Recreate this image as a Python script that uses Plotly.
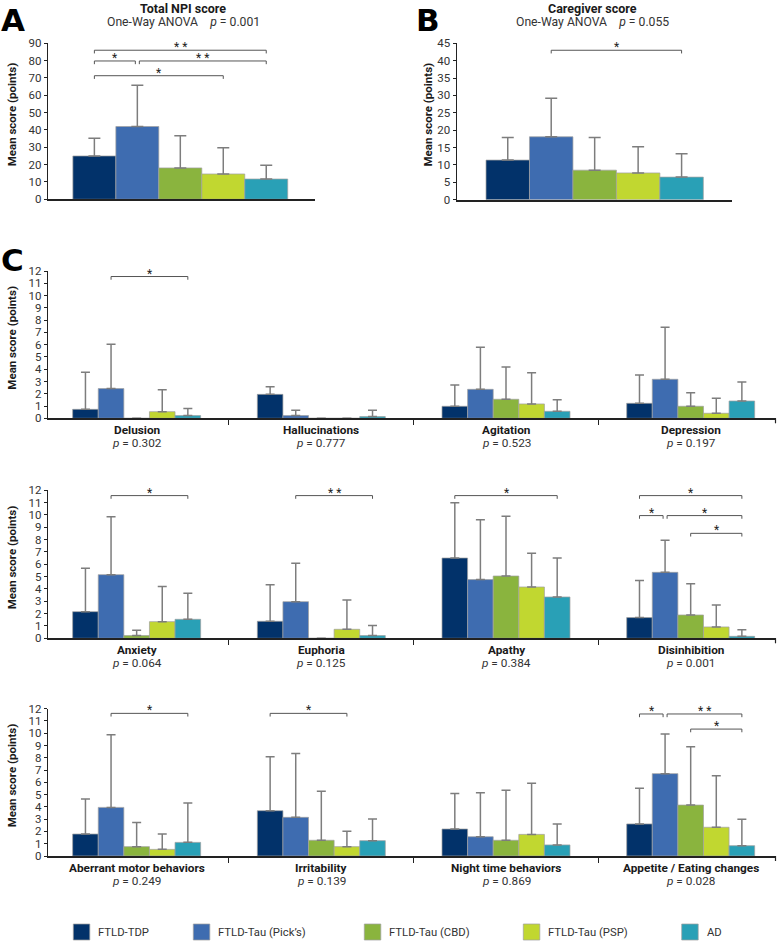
import plotly.graph_objects as go

W, H = 778, 942

# ---------------- data ----------------
groups = ["FTLD-TDP", "FTLD-Tau (Pick’s)", "FTLD-Tau (CBD)", "FTLD-Tau (PSP)", "AD"]
colors = ["#02326a", "#3e6cb0", "#8ab43e", "#c1d730", "#29a0b6"]

total_mean = [25.0, 42.0, 18.1, 14.6, 11.7]
total_sd = [10.2, 23.8, 18.6, 15.2, 7.9]
total_p = "0.001"

care_mean = [11.4, 18.1, 8.5, 7.7, 6.5]
care_sd = [6.5, 11.1, 9.4, 7.5, 6.7]
care_p = "0.055"

domains = ["Delusion", "Hallucinations", "Agitation", "Depression",
           "Anxiety", "Euphoria", "Apathy", "Disinhibition",
           "Aberrant motor behaviors", "Irritability", "Night time behaviors",
           "Appetite / Eating changes"]
domain_p = ["0.302", "0.777", "0.523", "0.197", "0.064", "0.125", "0.384", "0.001",
            "0.249", "0.139", "0.869", "0.028"]
# mean per group (rows: domains, cols: groups)
domain_mean = [
    [0.73, 2.42, 0.0, 0.54, 0.22],
    [1.95, 0.22, 0.0, 0.0, 0.14],
    [0.98, 2.36, 1.55, 1.17, 0.57],
    [1.22, 3.18, 0.98, 0.41, 1.41],
    [2.16, 5.16, 0.22, 1.35, 1.54],
    [1.38, 2.97, 0.0, 0.73, 0.22],
    [6.51, 4.76, 5.05, 4.16, 3.35],
    [1.68, 5.35, 1.89, 0.92, 0.16],
    [1.79, 3.96, 0.76, 0.54, 1.11],
    [3.69, 3.15, 1.28, 0.76, 1.25],
    [2.20, 1.57, 1.28, 1.76, 0.90],
    [2.61, 6.71, 4.15, 2.34, 0.84],
]
domain_sd = [
    [3.02, 3.61, None, 1.79, 0.57],
    [0.63, 0.43, None, None, 0.51],
    [1.74, 3.42, 2.63, 2.55, 0.95],
    [2.31, 4.23, 1.11, 1.22, 1.55],
    [3.52, 4.70, 0.43, 2.84, 2.11],
    [2.97, 3.11, None, 2.38, 0.81],
    [4.49, 4.86, 4.84, 2.73, 3.16],
    [3.00, 2.60, 2.54, 1.78, 0.54],
    [2.85, 5.92, 1.96, 1.25, 3.21],
    [4.40, 5.21, 3.99, 1.25, 1.76],
    [2.90, 3.59, 4.07, 4.16, 1.71],
    [2.90, 3.23, 4.76, 4.20, 2.15],
]
# significance brackets: (group from, group to, level, stars)
total_sig = [(0, 4, 86.0, "* *"), (0, 1, 79.8, "*"), (1, 4, 79.8, "* *"), (0, 3, 71.3, "*")]
care_sig = [(1, 4, 43.0, "*")]
domain_sig = [
    ("Delusion", 1, 4, 11.55, "*"),
    ("Anxiety", 1, 4, 11.57, "*"),
    ("Euphoria", 1, 4, 11.57, "* *"),
    ("Apathy", 0, 4, 11.57, "*"),
    ("Disinhibition", 0, 4, 11.57, "*"),
    ("Disinhibition", 0, 1, 9.95, "*"),
    ("Disinhibition", 1, 4, 9.95, "*"),
    ("Disinhibition", 2, 4, 8.51, "*"),
    ("Aberrant motor behaviors", 1, 4, 11.62, "*"),
    ("Irritability", 0, 3, 11.62, "*"),
    ("Appetite / Eating changes", 0, 1, 11.57, "*"),
    ("Appetite / Eating changes", 1, 4, 11.57, "* *"),
    ("Appetite / Eating changes", 2, 4, 10.34, "*"),
]

# ---------------- layout helpers ----------------
FONT = "Roboto, 'Noto Sans', sans-serif"
BARGAP = 0.307
BW = (1 - BARGAP) / 5  # bar width in category units


def px_x(p):
    return p / W


def px_y(p):
    return 1 - p / H


# panel geometry in pixels
panels = {
    "A": dict(xa="x", ya="y", x=(48, 315), y=(43.3, 199.3), yr=(0, 90), dt=10, xr=(-0.4268, 0.4345)),
    "B": dict(xa="x2", ya="y2", x=(456.7, 731.7), y=(43.3, 199.7), yr=(0, 45), dt=5, xr=(-0.440, 0.437)),
    "R1": dict(xa="x3", ya="y3", x=(48, 776), y=(271.0, 418.3), yr=(0, 12), dt=1, xr=(-0.480, 3.462)),
    "R2": dict(xa="x4", ya="y4", x=(48, 776), y=(490.3, 638.3), yr=(0, 12), dt=1, xr=(-0.480, 3.462)),
    "R3": dict(xa="x5", ya="y5", x=(48, 776), y=(708.7, 856.0), yr=(0, 12), dt=1, xr=(-0.480, 3.462)),
}

fig = go.Figure()


def add_bars(pan, cats, means, sds, capw):
    p = panels[pan]
    for j, g in enumerate(groups):
        ys = [m[j] for m in means]
        es = [s[j] for s in sds]
        fig.add_trace(go.Bar(
            x=cats, y=ys, name=g, showlegend=False,
            xaxis=p["xa"], yaxis=p["ya"],
            marker=dict(color=colors[j], line=dict(color="rgba(160,160,160,0.9)", width=0.8)),
            error_y=dict(type="data", symmetric=False, array=es,
                         arrayminus=[0 if e is not None else None for e in es],
                         color="#7d7d7d", thickness=1.5, width=capw),
            hoverinfo="skip",
        ))


add_bars("A", ["Total NPI score"], [total_mean], [total_sd], 6)
add_bars("B", ["Caregiver score"], [care_mean], [care_sd], 6)
for r in range(3):
    sl = slice(4 * r, 4 * r + 4)
    add_bars(f"R{r+1}", domains[sl], domain_mean[sl], domain_sd[sl], 4.5)

layout = dict(
    template="none",
    width=W, height=H, margin=dict(l=0, r=0, t=0, b=0, autoexpand=False),
    paper_bgcolor="white", plot_bgcolor="white",
    barmode="group", bargap=BARGAP, bargroupgap=0,
    font=dict(family=FONT, size=11, color="#333"),
    showlegend=False,
)
shapes = []
annotations = []

for key, p in panels.items():
    xn = p["xa"].replace("x", "xaxis")
    yn = p["ya"].replace("y", "yaxis")
    is_row = key.startswith("R")
    layout[xn] = dict(
        domain=[px_x(p["x"][0]), px_x(p["x"][1])], anchor=p["ya"], type="category",
        range=list(p["xr"]), showline=True, linecolor="#222", linewidth=1.5,
        showgrid=False, zeroline=False, showticklabels=False, automargin=False,
        ticks="outside" if is_row else "", tickson="boundaries", ticklen=5,
        tickcolor="#222", tickwidth=1.2, fixedrange=True,
    )
    layout[yn] = dict(
        domain=[px_y(p["y"][1]), px_y(p["y"][0])], anchor=p["xa"], automargin=False,
        range=list(p["yr"]), dtick=p["dt"], tick0=0, showline=True, linecolor="#222",
        linewidth=1.3, showgrid=False, zeroline=False, ticks="outside", ticklen=3,
        tickcolor="#222", tickfont=dict(size=11.5, color="#333"), fixedrange=True,
    )
    # y axis title
    ymid = (p["y"][0] + p["y"][1]) / 2 - 7
    xt = 12 if p["x"][0] < 100 else 427
    annotations.append(dict(
        text="<b>Mean score (points)</b>", textangle=-90, xref="paper", yref="paper",
        x=px_x(xt), y=px_y(ymid), showarrow=False, xanchor="center", yanchor="middle",
        font=dict(size=11.5, color="#1a1a1a"),
    ))
    if is_row:
        shapes.append(dict(type="line", xref="paper", yref="paper",
                           x0=px_x(p["x"][1] - 0.5), x1=px_x(p["x"][1] - 0.5),
                           y0=px_y(p["y"][1]), y1=px_y(p["y"][1] + 5),
                           line=dict(color="#222", width=1.2)))


def bar_center(cat_idx, grp):
    return cat_idx + (grp - 2) * BW


def add_bracket(pan, cat_idx, g0, g1, level, stars, shrink_l=0.0, shrink_r=0.0):
    p = panels[pan]
    unit_px = (p["x"][1] - p["x"][0]) / (p["xr"][1] - p["xr"][0])
    yscale = (p["y"][1] - p["y"][0]) / (p["yr"][1] - p["yr"][0])
    tick = 3.2 / yscale
    x0 = bar_center(cat_idx, g0) + shrink_l * 2.0 / unit_px
    x1 = bar_center(cat_idx, g1) - shrink_r * 2.0 / unit_px
    ln = dict(color="#555", width=1)
    for (a, b, c, d) in [(x0, level - tick, x0, level), (x0, level, x1, level), (x1, level, x1, level - tick)]:
        shapes.append(dict(type="line", xref=p["xa"], yref=p["ya"], x0=a, y0=b, x1=c, y1=d, line=ln))
    annotations.append(dict(text=stars, xref=p["xa"], yref=p["ya"], x=(x0 + x1) / 2, y=level,
                            showarrow=False, xanchor="center", yanchor="middle", yshift=3,
                            font=dict(size=12, color="#222")))


def add_sig(pan, cat_idx, sig_list):
    ends = {}
    for (g0, g1, lvl, s) in sig_list:
        ends.setdefault(lvl, []).append((g0, g1))
    for (g0, g1, lvl, s) in sig_list:
        others = ends[lvl]
        sl = 1 if any(o[1] == g0 for o in others) else 0
        sr = 1 if any(o[0] == g1 for o in others) else 0
        add_bracket(pan, cat_idx, g0, g1, lvl, s, sl, sr)


add_sig("A", 0, total_sig)
add_sig("B", 0, care_sig)
for r in range(3):
    pan = f"R{r+1}"
    for ci in range(4):
        name = domains[4 * r + ci]
        sig = [(g0, g1, lvl, s) for (n, g0, g1, lvl, s) in domain_sig if n == name]
        if sig:
            add_sig(pan, ci, sig)

# category labels under the rows
for r in range(3):
    p = panels[f"R{r+1}"]
    unit_px = (p["x"][1] - p["x"][0]) / (p["xr"][1] - p["xr"][0])
    for ci in range(4):
        k = 4 * r + ci
        cx = p["x"][0] + (ci - p["xr"][0]) * unit_px
        annotations.append(dict(text=f"<b>{domains[k]}</b>", xref="paper", yref="paper",
                                x=px_x(cx), y=px_y(p["y"][1] + 12), showarrow=False,
                                xanchor="center", yanchor="middle",
                                font=dict(size=11.8, color="#1a1a1a")))
        annotations.append(dict(text=f"<i>p</i> = {domain_p[k]}", xref="paper", yref="paper",
                                x=px_x(cx), y=px_y(p["y"][1] + 24.5), showarrow=False,
                                xanchor="center", yanchor="middle",
                                font=dict(size=11.8, color="#333")))

# panel titles
sp = "\u00a0" * 4
for (cx, title, pv) in [(183, "Total NPI score", total_p), (592, "Caregiver score", care_p)]:
    annotations.append(dict(text=f"<b>{title}</b>", xref="paper", yref="paper", x=px_x(cx),
                            y=1.0, showarrow=False, xanchor="center", yanchor="top", borderpad=0,
                            font=dict(size=12.5, color="#1a1a1a")))
    annotations.append(dict(text=f"One-Way ANOVA{sp}<i>p</i> = {pv}", xref="paper", yref="paper",
                            x=px_x(cx), y=px_y(21.5), showarrow=False, xanchor="center",
                            yanchor="middle", font=dict(size=12.2, color="#333")))

# panel letters
for (lx, ly, letter) in [(-1, 0, "A"), (414, 0, "B"), (-1, 240, "C")]:
    annotations.append(dict(text=f"<b>{letter}</b>", xref="paper", yref="paper", x=px_x(lx),
                            y=px_y(ly), showarrow=False, xanchor="left", yanchor="top",
                            font=dict(family="'DejaVu Sans', Arial, sans-serif", size=31, color="#000")))

# legend (manual)
leg_sq_x = [73.3, 193.3, 364.3, 523.3, 681.7]
for j, g in enumerate(groups):
    x0 = leg_sq_x[j]
    shapes.append(dict(type="rect", xref="paper", yref="paper", x0=px_x(x0), x1=px_x(x0 + 16.5),
                       y0=px_y(940), y1=px_y(924), fillcolor=colors[j],
                       line=dict(color="rgba(160,160,160,0.9)", width=0.8)))
    annotations.append(dict(text=g, xref="paper", yref="paper", x=px_x(x0 + 23), y=px_y(932.5),
                            showarrow=False, xanchor="left", yanchor="middle",
                            font=dict(size=11.3, color="#333")))

layout["shapes"] = shapes
layout["annotations"] = annotations
fig.update_layout(**layout)
fig.write_html("out.html", config={"displayModeBar": False},
               post_script="document.body.style.margin='0px';document.body.style.overflow='hidden';")
